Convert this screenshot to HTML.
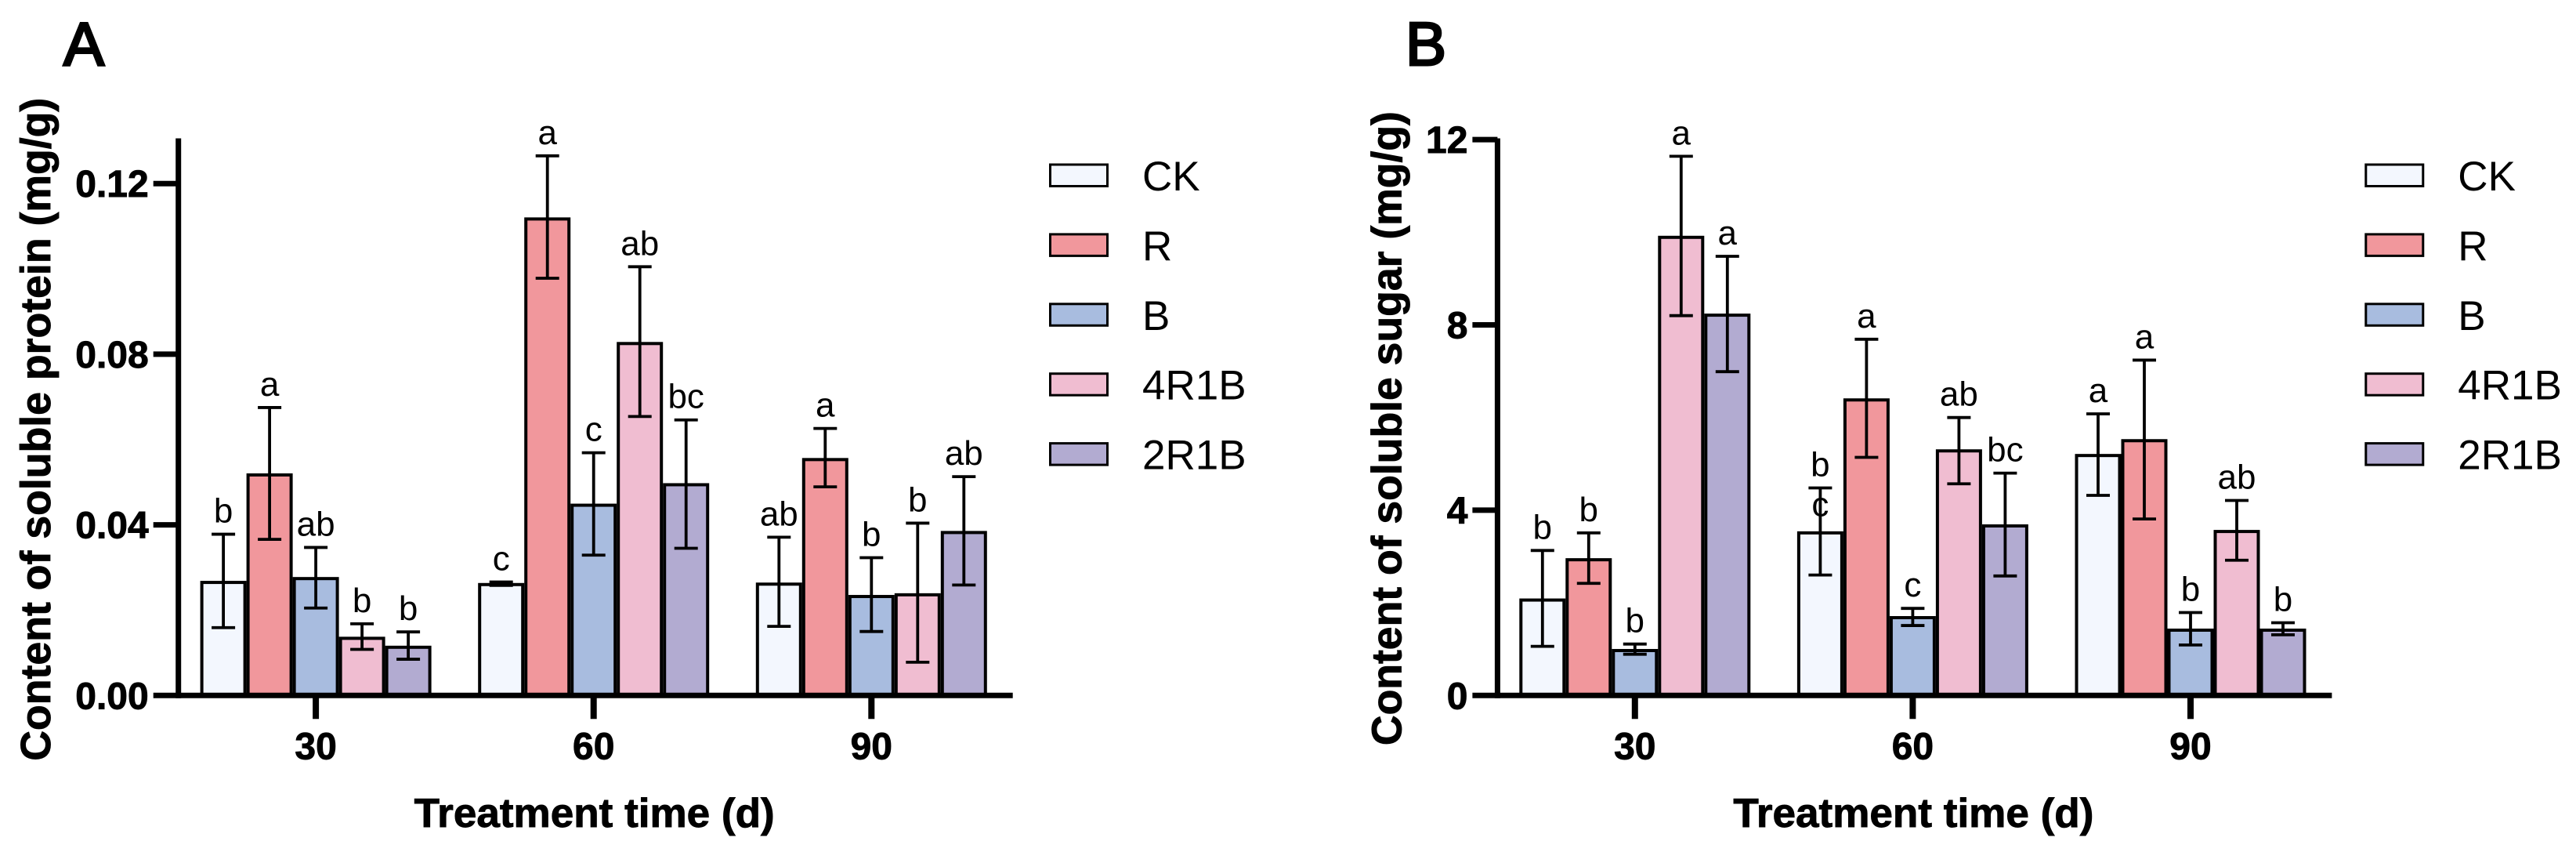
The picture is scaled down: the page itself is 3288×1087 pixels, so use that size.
<!DOCTYPE html>
<html lang="en">
<head>
<meta charset="utf-8">
<title>Soluble protein and soluble sugar content by light treatment</title>
<style>
html,body{margin:0;padding:0;background:#fff;}
svg{display:block;font-family:"Liberation Sans",Arial,sans-serif;}
</style>
</head>
<body>
<svg id="figure" xmlns="http://www.w3.org/2000/svg" width="3288" height="1087" viewBox="0 0 3288 1087">
  <rect x="0" y="0" width="3288" height="1087" fill="#ffffff"/>
  <g id="panel-a"></g>
  <g id="panel-b"></g>
</svg>
<script>
const categories = ["30", "60", "90"];
const seriesNames = ["CK", "R", "B", "4R1B", "2R1B"];
const seriesColors = ["#f3f7fe", "#f1979c", "#a8bcdf", "#f0bdd1", "#b2abd1"];

const proteinTicks = ["0.00", "0.04", "0.08", "0.12"];
const proteinMean = [
  [0.0265, 0.0517, 0.0274, 0.0134, 0.0113],
  [0.0260, 0.1117, 0.0446, 0.0825, 0.0494],
  [0.0261, 0.0553, 0.0232, 0.0236, 0.0382]
];
const proteinHigh = [
  [0.0378, 0.0675, 0.0347, 0.0168, 0.0149],
  [0.0266, 0.1265, 0.0569, 0.1005, 0.0646],
  [0.0371, 0.0626, 0.0323, 0.0404, 0.0513]
];
const proteinLow = [
  [0.0159, 0.0366, 0.0205, 0.0108, 0.0085],
  [0.0258, 0.0978, 0.0329, 0.0654, 0.0345],
  [0.0162, 0.0489, 0.0150, 0.0078, 0.0259]
];
const proteinLetters = [
  ["b", "a", "ab", "b", "b"],
  ["c", "a", "c", "ab", "bc"],
  ["ab", "a", "b", "b", "ab"]
];

const sugarTicks = ["0", "4", "8", "12"];
const sugarMean = [
  [2.06, 2.93, 0.97, 9.89, 8.21],
  [3.51, 6.38, 1.68, 5.28, 3.66],
  [5.18, 5.50, 1.41, 3.54, 1.41]
];
const sugarHigh = [
  [3.13, 3.51, 1.11, 11.64, 9.48],
  [4.48, 7.69, 1.88, 6.00, 4.80],
  [6.08, 7.24, 1.79, 4.21, 1.57]
];
const sugarLow = [
  [1.06, 2.42, 0.89, 8.20, 6.99],
  [2.60, 5.14, 1.51, 4.57, 2.58],
  [4.32, 3.81, 1.09, 2.92, 1.31]
];
const sugarLetters = [
  ["b", "b", "b", "a", "a"],
  ["b", "a", "c", "ab", "bc"],
  ["a", "a", "b", "ab", "b"]
];

const SVG_NS = "http://www.w3.org/2000/svg";

function makeLine(parent, x1, y1, x2, y2, width) {
  const el = document.createElementNS(SVG_NS, "line");
  el.setAttribute("x1", x1);
  el.setAttribute("y1", y1);
  el.setAttribute("x2", x2);
  el.setAttribute("y2", y2);
  el.setAttribute("stroke", "#000");
  el.setAttribute("stroke-width", width);
  parent.appendChild(el);
  return el;
}

function makeText(parent, str, x, y, size, weight, anchor) {
  const el = document.createElementNS(SVG_NS, "text");
  el.setAttribute("x", x);
  el.setAttribute("y", y);
  el.setAttribute("font-size", size);
  el.setAttribute("font-weight", weight);
  el.setAttribute("text-anchor", anchor);
  el.setAttribute("fill", "#000");
  if (weight === 700) {
    el.setAttribute("stroke", "#000");
    el.setAttribute("stroke-width", "0.9");
  }
  el.textContent = str;
  parent.appendChild(el);
  return el;
}

function drawPanel(cfg) {
  const root = document.getElementById(cfg.id);
  const x0 = cfg.axisX;
  const baseY = 887.3;
  const groupStep = 354.6;
  const barStep = 59;
  const yScale = function (v) { return baseY - (v / cfg.tickStep) * cfg.tickPx; };
  const xGroup = function (i) { return x0 + 175.4 + i * groupStep; };
  const xBar = function (i, j) { return xGroup(i) + (j - 2) * barStep; };

  const panelLetter = makeText(root, cfg.letter, cfg.letterX, 83, 78, 400, "start");
  panelLetter.setAttribute("stroke", "#000");
  panelLetter.setAttribute("stroke-width", "3");
  
  

  categories.forEach(function (cat, i) {
    seriesNames.forEach(function (name, j) {
      const cx = xBar(i, j);
      const topY = yScale(cfg.mean[i][j]);
      const bar = document.createElementNS(SVG_NS, "rect");
      bar.setAttribute("x", cx - 27.5);
      bar.setAttribute("y", topY);
      bar.setAttribute("width", 55);
      bar.setAttribute("height", baseY - topY);
      bar.setAttribute("fill", seriesColors[j]);
      bar.setAttribute("stroke", "#000");
      bar.setAttribute("stroke-width", 4);
      
      
      root.appendChild(bar);
    });
  });

  categories.forEach(function (cat, i) {
    seriesNames.forEach(function (name, j) {
      const cx = xBar(i, j);
      const hi = yScale(cfg.high[i][j]);
      const lo = yScale(cfg.low[i][j]);
      const err = document.createElementNS(SVG_NS, "g");
      
      
      root.appendChild(err);
      makeLine(err, cx, hi, cx, lo, 3.8);
      makeLine(err, cx - 15, hi, cx + 15, hi, 3.8);
      makeLine(err, cx - 15, lo, cx + 15, lo, 3.8);

      const letterText = makeText(root, cfg.letters[i][j], cx, hi - 15, 44, 400, "middle");
      
      
    });
  });

  if (cfg.extraLetter) {
    const extra = makeText(root, cfg.extraLetter.text, xBar(cfg.extraLetter.group, cfg.extraLetter.series), yScale(cfg.extraLetter.value), 44, 400, "middle");
    
    
  }

  const yAxis = makeLine(root, x0, 176.5, x0, baseY + 3.5, 7);
  
  
  const xAxis = makeLine(root, x0 - 32, baseY, x0 + 1065, baseY, 7);
  
  

  cfg.ticks.forEach(function (label, k) {
    const ty = yScale(k * cfg.tickStep);
    if (k > 0) {
      const tick = makeLine(root, x0 - 32, ty, x0, ty, 7);
      
      
    }
    const tl = makeText(root, label, x0 - 38, ty + 17, 48, 700, "end");
    
    
  });

  categories.forEach(function (cat, i) {
    const gx = xGroup(i);
    const tick = makeLine(root, gx, baseY, gx, baseY + 30, 8);
    
    
    const tl = makeText(root, cat, gx, 968.5, 48, 700, "middle");
    
    
  });

  const xTitle = makeText(root, "Treatment time (d)", x0 + 531, 1055, 52, 700, "middle");
  xTitle.setAttribute("textLength", 460);
  xTitle.setAttribute("lengthAdjust", "spacingAndGlyphs");
  
  

  const yTitle = makeText(root, cfg.yTitle, 0, 0, 54, 700, "middle");
  yTitle.setAttribute("transform", "translate(" + cfg.yTitleX + " " + cfg.yTitleY + ") rotate(-90)");
  yTitle.setAttribute("textLength", cfg.yTitleLength);
  yTitle.setAttribute("lengthAdjust", "spacingAndGlyphs");
  
  

  seriesNames.forEach(function (name, j) {
    const entry = document.createElementNS(SVG_NS, "g");
    
    
    root.appendChild(entry);
    const sw = document.createElementNS(SVG_NS, "rect");
    sw.setAttribute("x", cfg.legendX + 1.5);
    sw.setAttribute("y", 210 + j * 88.9);
    sw.setAttribute("width", 73);
    sw.setAttribute("height", 27.5);
    sw.setAttribute("fill", seriesColors[j]);
    sw.setAttribute("stroke", "#000");
    sw.setAttribute("stroke-width", 3);
    entry.appendChild(sw);
    makeText(entry, name, cfg.legendX + 119, 243 + j * 88.9, 53, 400, "start");
  });
}

drawPanel({
  id: "panel-a", letter: "A", letterX: 81, axisX: 227.7,
  tickStep: 0.04, tickPx: 217.7, ticks: proteinTicks,
  mean: proteinMean, high: proteinHigh, low: proteinLow, letters: proteinLetters,
  yTitle: "Content of soluble protein (mg/g)", yTitleX: 64, yTitleY: 547.7, yTitleLength: 846,
  legendX: 1339
});

drawPanel({
  id: "panel-b", letter: "B", letterX: 1794, axisX: 1911.4,
  tickStep: 4, tickPx: 236.4, ticks: sugarTicks,
  mean: sugarMean, high: sugarHigh, low: sugarLow, letters: sugarLetters,
  extraLetter: { text: "c", group: 1, series: 0, value: 3.87 },
  yTitle: "Content of soluble sugar (mg/g)", yTitleX: 1788.5, yTitleY: 546.6, yTitleLength: 809,
  legendX: 3018.3
});
</script>
</body>
</html>
